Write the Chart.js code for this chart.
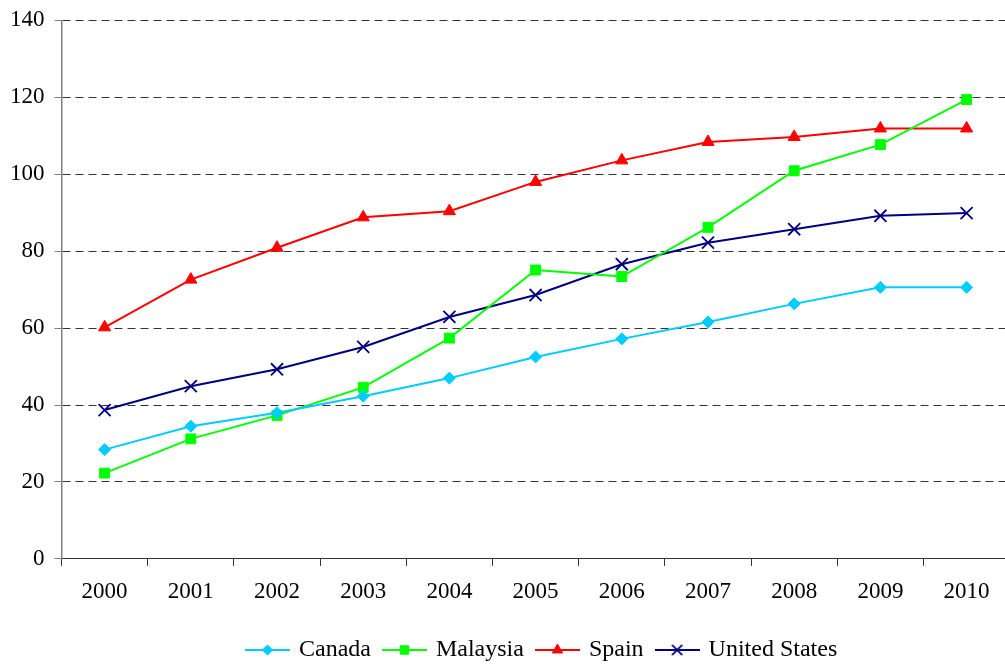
<!DOCTYPE html>
<html>
<head>
<meta charset="utf-8">
<script src="https://cdn.jsdelivr.net/npm/chart.js@4/dist/chart.umd.min.js"></script>
<style>
  html, body { margin: 0; padding: 0; background: #fff; overflow: hidden; }
  #wrap { position: relative; width: 1020px; height: 672px; }
</style>
</head>
<body>
<div id="wrap"><canvas id="chart"></canvas></div>
<script>
// chart data
const years = ["2000", "2001", "2002", "2003", "2004", "2005", "2006", "2007", "2008", "2009", "2010"];
const canada = [28.4, 34.5, 38.0, 42.3, 47.0, 52.5, 57.2, 61.6, 66.3, 70.6, 70.6];
const malaysia = [22.3, 31.2, 37.3, 44.6, 57.4, 75.1, 73.4, 86.2, 100.9, 107.7, 119.4];
const spain = [60.2, 72.6, 80.9, 88.8, 90.4, 98.0, 103.6, 108.4, 109.7, 111.9, 111.9];
const unitedStates = [38.7, 44.9, 49.3, 55.1, 62.9, 68.6, 76.6, 82.2, 85.7, 89.2, 89.9];

const yTicks = { min: 0, max: 140, step: 20 };

const series = [
  { label: "Canada", data: canada, color: "#00ccff", style: "rectRot", radius: 6, border: 1 },
  { label: "Malaysia", data: malaysia, color: "#00ff00", style: "rect", radius: 7, border: 1 },
  { label: "Spain", data: spain, color: "#ff0000", style: "triangle", radius: 7, border: 1 },
  { label: "United States", data: unitedStates, color: "#000080", style: "crossRot", radius: 8.5, border: 1.8 }
];

// small line + marker images for the legend
function legendIcon(s) {
  const c = document.createElement("canvas");
  c.width = 45;
  c.height = 18;
  const ctx = c.getContext("2d");
  ctx.strokeStyle = s.color;
  ctx.fillStyle = s.color;
  ctx.lineWidth = 2;
  ctx.beginPath();
  ctx.moveTo(0, 9);
  ctx.lineTo(45, 9);
  ctx.stroke();
  ctx.lineWidth = s.border;
  Chart.helpers.drawPoint(ctx, { pointStyle: s.style, radius: s.radius * 0.85, rotation: 0, borderWidth: s.border }, 22.5, 9);
  return c;
}
const icons = series.map(legendIcon);

// keep the legend centred under the plot area
const legendUnderPlot = {
  id: "legendUnderPlot",
  afterLayout(chart) {
    const L = chart.legend;
    const area = chart.chartArea;
    const shift = (area.left + area.right) / 2 - (L.left + L.right) / 2 + 7;
    L.left += shift;
    L.right += shift;
  }
};

Chart.defaults.font.family = "'Liberation Serif', 'Times New Roman', serif";
Chart.defaults.font.size = 23;
Chart.defaults.color = "#000";

new Chart(document.getElementById("chart"), {
  type: "line",
  data: {
    labels: years,
    datasets: series.map(s => ({
      label: s.label,
      data: s.data,
      borderColor: s.color,
      backgroundColor: s.color,
      borderWidth: 2,
      tension: 0,
      pointStyle: s.style,
      pointRadius: s.radius,
      pointHoverRadius: s.radius,
      pointBorderWidth: s.border,
      pointBackgroundColor: s.color,
      pointBorderColor: s.color
    }))
  },
  options: {
    responsive: true,
    maintainAspectRatio: false,
    animation: false,
    layout: { padding: { top: 0, left: 0, right: 5, bottom: 0 } },
    plugins: {
      tooltip: { enabled: false },
      legend: {
        position: "bottom",
        labels: {
          usePointStyle: true,
          pointStyleWidth: 39,
          padding: 14,
          font: { size: 24 },
          generateLabels(chart) {
            const items = Chart.defaults.plugins.legend.labels.generateLabels(chart);
            items.forEach((it, i) => { it.pointStyle = icons[i]; });
            return items;
          }
        }
      }
    },
    scales: {
      x: {
        offset: true,
        grid: {
          offset: true,
          drawOnChartArea: false,
          tickLength: 7,
          tickColor: "#333",
          tickWidth: 1
        },
        border: { color: "#333", width: 1 },
        ticks: { padding: 12, maxRotation: 0 },
        afterFit(scale) { scale.height += 6.5; }
      },
      y: {
        min: yTicks.min,
        max: yTicks.max,
        ticks: { stepSize: yTicks.step, padding: 10, font: { size: 23, lineHeight: 0.9 } },
        grid: {
          color: "#333",
          lineWidth: 1,
          tickLength: 7,
          tickColor: "#808080",
          tickBorderDash: []
        },
        border: { color: "#808080", width: 1.5, dash: [8, 5] }
      }
    }
  },
  plugins: [legendUnderPlot]
});
</script>
</body>
</html>
